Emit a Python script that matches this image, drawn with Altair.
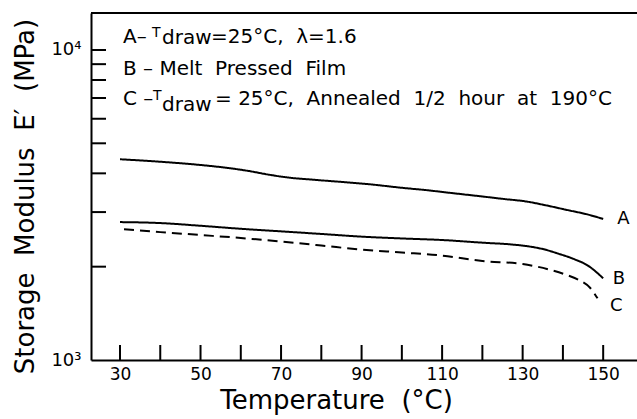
import altair as alt
import pandas as pd

# ---- data ----
temp_a = [30, 40, 50, 57, 62, 67, 72, 78, 84, 92, 100, 106, 112, 119, 125, 131, 136, 141, 146, 150]
mod_a = [4441, 4360, 4256, 4160, 4070, 3960, 3875, 3815, 3762, 3688, 3593, 3532, 3460, 3380, 3310, 3244, 3150, 3048, 2950, 2851]

temp_b = [30, 40, 50, 60, 70, 80, 90, 100, 110, 120, 127, 131, 135, 139, 143, 146, 150]
mod_b = [2785, 2765, 2710, 2650, 2600, 2550, 2500, 2466, 2438, 2390, 2360, 2330, 2280, 2200, 2110, 2024, 1835]

temp_c = [31, 40, 50, 60, 70, 80, 90, 100, 110, 120, 130, 137, 141, 144, 146.8, 148.6]
mod_c = [2640, 2585, 2530, 2475, 2410, 2340, 2270, 2222, 2172, 2086, 2040, 1951, 1880, 1810, 1707, 1581]

curve_names = ["A", "B", "C"]
x_label_values = [30, 50, 70, 90, 110, 130, 150]
x_tick_values = [30, 40, 50, 60, 70, 80, 90, 100, 110, 120, 130, 140, 150]
y_label_values = [1000, 10000]
y_tick_values = [2000, 3000, 4000, 5000, 6000, 7000, 8000, 9000, 10000]

# curve end labels (data coordinates)
end_label_text = ["A", "B", "C"]
end_label_T = [153.5, 152.4, 151.7]
end_label_E = [2850, 1825, 1494]

# legend text pieces (data coordinates, baseline)
note_text = ["A\u2013", "T", "draw", "=25°C,\u00a0 λ=1.6",
             "B \u2013 Melt\u00a0 Pressed\u00a0 Film",
             "C \u2013", "T", "draw", "=\u00a025°C,\u00a0 Annealed\u00a0 1/2\u00a0 hour\u00a0 at\u00a0 190°C"]
note_T = [30.75, 37.95, 40.43, 52.60, 30.75, 30.75, 38.20, 40.43, 53.60]
note_E = [10510, 11040, 10433, 10510, 8308, 6646, 6898, 6333, 6646]
note_size = [20, 14, 20, 20, 20, 20, 14, 20, 20]

FONT = "DejaVu Sans"
W, H = 546, 347

curves = pd.concat([
    pd.DataFrame({"T": temp_a, "E": mod_a, "curve": "A"}),
    pd.DataFrame({"T": temp_b, "E": mod_b, "curve": "B"}),
    pd.DataFrame({"T": temp_c, "E": mod_c, "curve": "C"}),
])

x_scale = alt.Scale(domain=[22.8, 158.4], nice=False, zero=False)
y_scale = alt.Scale(type="log", domain=[1000, 13160], nice=False)

x_enc = alt.X("T:Q", scale=x_scale, axis=alt.Axis(
    values=x_label_values, ticks=False, tickSize=0, grid=False,
    domainWidth=2, domainColor="black",
    labelFont=FONT, labelFontSize=17, labelColor="black", labelPadding=6,
    title="Temperature\u00a0 (°C)", titleFont=FONT, titleFontSize=26,
    titleFontWeight="normal", titleColor="black",
    titleX=245, titleY=48, titleAlign="center", titleBaseline="alphabetic"))

y_enc = alt.Y("E:Q", scale=y_scale, axis=alt.Axis(
    values=y_label_values, ticks=False, tickSize=0, grid=False,
    labelExpr="datum.value == 1000 ? '10³' : '10⁴'",
    domainWidth=2, domainColor="black",
    labelFont=FONT, labelFontSize=18, labelColor="black", labelPadding=10,
    title="Storage\u00a0 Modulus\u00a0 E′\u00a0 (MPa)", titleFont=FONT, titleFontSize=26,
    titleFontWeight="normal", titleColor="black", titleAngle=270,
    titleX=-58, titleY=183, titleAlign="center", titleBaseline="alphabetic"))

lines = alt.Chart(curves).mark_line(color="black", strokeWidth=2, interpolate="monotone").encode(
    x=x_enc, y=y_enc, detail="curve:N",
    strokeDash=alt.StrokeDash("curve:N", scale=alt.Scale(domain=curve_names, range=[[1, 0], [1, 0], [10, 6]]), legend=None),
)

yticks = alt.Chart(pd.DataFrame({"E": y_tick_values})).mark_rule(color="black", strokeWidth=2).encode(
    y=y_enc, x=alt.value(0), x2=alt.value(15))

xticks = alt.Chart(pd.DataFrame({"T": x_tick_values})).mark_rule(color="black", strokeWidth=2).encode(
    x=x_enc, y=alt.value(H), y2=alt.value(H - 15))

top_border = alt.Chart(pd.DataFrame({"a": [0]})).mark_rule(color="black", strokeWidth=2).encode(
    x=alt.value(0), x2=alt.value(W), y=alt.value(0))

end_labels = alt.Chart(pd.DataFrame({"T": end_label_T, "E": end_label_E, "t": end_label_text})).mark_text(
    font=FONT, fontSize=18, align="left", baseline="middle", color="black").encode(
    x=x_enc, y=y_enc, text="t:N")

notes = alt.Chart(pd.DataFrame({"T": note_T, "E": note_E, "t": note_text, "s": note_size})).mark_text(
    font=FONT, align="left", baseline="alphabetic", color="black").encode(
    x=x_enc, y=y_enc, text="t:N",
    size=alt.Size("s:Q", scale=None, legend=None))

chart = alt.layer(top_border, xticks, yticks, lines, end_labels, notes).properties(
    width=W, height=H,
    autosize=alt.AutoSizeParams(type="none"),
    padding={"left": 91, "top": 13, "right": 0, "bottom": 59},
    background="white",
).configure_view(stroke=None)

chart.save("out.html", embed_options={"renderer": "svg", "actions": False})
